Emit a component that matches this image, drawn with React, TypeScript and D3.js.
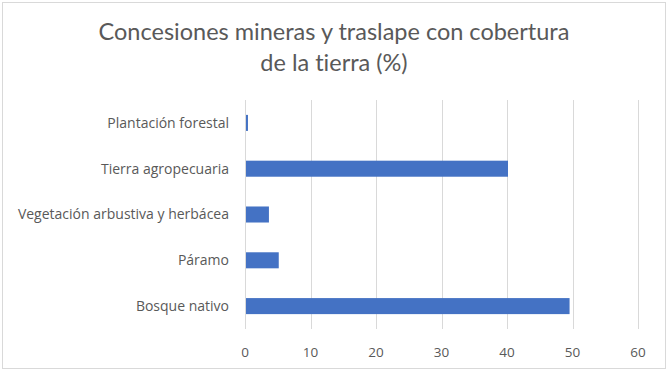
import React from "react";
import * as d3 from "d3";

const categories = [
  "Plantación forestal",
  "Tierra agropecuaria",
  "Vegetación arbustiva y herbácea",
  "Páramo",
  "Bosque nativo",
];
const values = [0.3, 40, 3.5, 5, 49.4];
const xTicks = [0, 10, 20, 30, 40, 50, 60];
const titleLines = ["Concesiones mineras y traslape con cobertura", "de la tierra (%)"];

export default function App() {
  const ref = React.useRef<SVGSVGElement | null>(null);

  React.useEffect(() => {
    if (!ref.current) return;
    document.body.style.margin = "0";
    const svg = d3.select(ref.current);
    svg.selectAll("*").remove();
    const width = 668;
    const height = 372;
    const margin = { top: 100, right: 30, bottom: 43, left: 245 };
    const font = "Lato, 'Open Sans', sans-serif";
    const labelFont = "'Open Sans', Lato, sans-serif";
    const grey = "#595959";

    svg
      .append("rect")
      .attr("x", 2.5)
      .attr("y", 2.5)
      .attr("width", width - 5)
      .attr("height", height - 6)
      .attr("fill", "#fff")
      .attr("stroke", "#d9d9d9");

    svg
      .append("g")
      .selectAll("text")
      .data(titleLines)
      .join("text")
      .attr("x", width / 2)
      .attr("y", (_, i) => 40 + i * 31)
      .attr("text-anchor", "middle")
      .attr("font-family", font)
      .attr("font-size", 23.5)
      .style("font-variant-ligatures", "none")
      .attr("fill", grey)
      .text(d => d);

    const x = d3.scaleLinear().domain([0, 60]).range([margin.left, 638]);
    const y = d3
      .scaleBand<string>()
      .domain(categories)
      .range([margin.top, height - margin.bottom])
      .paddingInner(0.65)
      .paddingOuter(0.325);

    svg
      .append("g")
      .selectAll("line")
      .data(xTicks)
      .join("line")
      .attr("x1", d => Math.round(x(d)) + 0.5)
      .attr("x2", d => Math.round(x(d)) + 0.5)
      .attr("y1", margin.top)
      .attr("y2", height - margin.bottom)
      .attr("stroke", "#d9d9d9")
      .attr("stroke-width", 1);

    svg
      .append("g")
      .selectAll("rect")
      .data(categories)
      .join("rect")
      .attr("x", x(0) + 1)
      .attr("y", d => y(d)!)
      .attr("width", (_, i) => Math.max(0, x(values[i]) - x(0)))
      .attr("height", y.bandwidth())
      .attr("fill", "#4472c4");

    svg
      .append("g")
      .selectAll("text")
      .data(categories)
      .join("text")
      .attr("x", 229)
      .attr("y", d => y(d)! + y.bandwidth() / 2)
      .attr("dy", "0.35em")
      .attr("text-anchor", "end")
      .attr("font-family", labelFont)
      .attr("font-size", 14)
      .attr("fill", grey)
      .text(d => d);

    svg
      .append("g")
      .selectAll("text")
      .data(xTicks)
      .join("text")
      .attr("x", d => x(d))
      .attr("y", 352)
      .attr("dy", "0.35em")
      .attr("text-anchor", "middle")
      .attr("font-family", labelFont)
      .attr("font-size", 13.5)
      .attr("fill", grey)
      .text(d => d);
  }, []);

  return <svg ref={ref} width={668} height={372} style={{ display: "block" }}></svg>;
}
